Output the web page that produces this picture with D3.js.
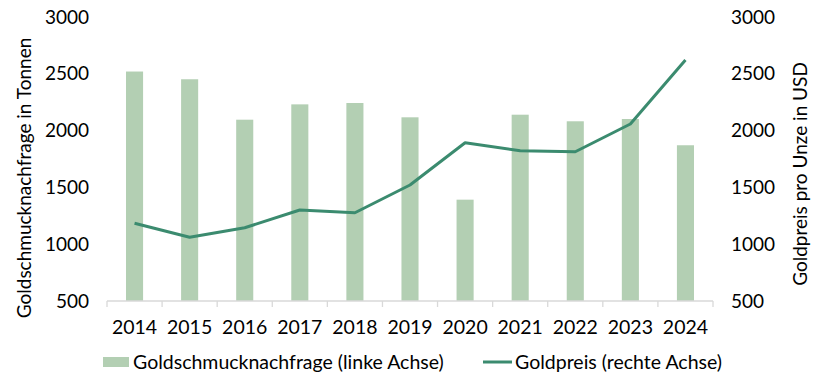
<!DOCTYPE html>
<html>
<head>
<meta charset="utf-8">
<script src="https://cdn.jsdelivr.net/npm/d3@7"></script>
<style>
  body { margin: 0; background: #fff; }
  svg { font-family: Lato, "Open Sans", sans-serif; }
  .tick text { fill: #000; }
</style>
</head>
<body>
<svg id="chart" width="820" height="385"></svg>
<script>
// chart data
const years = ['2014','2015','2016','2017','2018','2019','2020','2021','2022','2023','2024'];
const jewelleryDemand = [2520, 2452, 2096, 2231, 2243, 2117, 1392, 2140, 2082, 2102, 1871];
const goldPrice = [1184, 1061, 1145, 1301, 1277, 1521, 1893, 1823, 1814, 2058, 2621];
const yTicks = [500, 1000, 1500, 2000, 2500, 3000];

const barColor = '#b3cfb3';
const lineColor = '#3b8b6f';

const svg = d3.select('#chart');
const margin = {left: 107, right: 107, top: 17, bottom: 84};
const W = 820, H = 385;

const x = d3.scaleBand().domain(years).range([margin.left, W - margin.right]).paddingInner(0.69).paddingOuter(0.345);
const xTicksScale = d3.scaleBand().domain(years).range([margin.left, W - margin.right]);
const yL = d3.scaleLinear().domain([500, 3000]).range([H - margin.bottom, margin.top]);
const yR = d3.scaleLinear().domain([500, 3000]).range([H - margin.bottom, margin.top]);

// bars
svg.append('g').selectAll('rect').data(years).join('rect')
  .attr('x', d => x(d))
  .attr('width', x.bandwidth())
  .attr('y', (d, i) => yL(jewelleryDemand[i]))
  .attr('height', (d, i) => yL(500) - yL(jewelleryDemand[i]))
  .attr('fill', barColor);

// x axis
const xg = svg.append('g').attr('transform', `translate(0,${yL(500)})`);
xg.append('line').attr('x1', margin.left).attr('x2', W - margin.right)
  .attr('stroke', '#d9d9d9').attr('stroke-width', 1.3);
xg.selectAll('line.tk').data(years.concat(['end'])).join('line').attr('class', 'tk')
  .attr('x1', (d, i) => i < years.length ? xTicksScale(d) : W - margin.right)
  .attr('x2', (d, i) => i < years.length ? xTicksScale(d) : W - margin.right)
  .attr('y1', 0).attr('y2', 6).attr('stroke', '#d9d9d9').attr('stroke-width', 1.3);
xg.selectAll('text').data(years).join('text')
  .attr('x', d => xTicksScale(d) + xTicksScale.bandwidth() / 2)
  .attr('y', 33)
  .attr('text-anchor', 'middle')
  .attr('font-size', 19.5)
  .text(d => d);

// left axis
const yAxisL = d3.axisLeft(yL).tickValues(yTicks).tickFormat(d3.format('d')).tickSize(0).tickPadding(18);
svg.append('g').attr('transform', `translate(${margin.left},0)`).call(yAxisL)
  .call(g => g.select('.domain').remove())
  .selectAll('text').attr('font-size', 19).attr('font-family', 'Lato');

// right axis
const yAxisR = d3.axisRight(yR).tickValues(yTicks).tickFormat(d3.format('d')).tickSize(0).tickPadding(18);
svg.append('g').attr('transform', `translate(${W - margin.right},0)`).call(yAxisR)
  .call(g => g.select('.domain').remove())
  .selectAll('text').attr('font-size', 19).attr('font-family', 'Lato');

// line
const line = d3.line()
  .x((d, i) => x(years[i]) + x.bandwidth() / 2)
  .y(d => yR(d));
svg.append('path').datum(goldPrice)
  .attr('d', line)
  .attr('fill', 'none')
  .attr('stroke', lineColor)
  .attr('stroke-width', 3)
  .attr('stroke-linejoin', 'round');

// axis titles
svg.append('text')
  .attr('transform', 'translate(31,178) rotate(-90)')
  .attr('text-anchor', 'middle')
  .attr('font-size', 19)
  .text('Goldschmucknachfrage in Tonnen');
svg.append('text')
  .attr('transform', 'translate(807,174) rotate(-90)')
  .attr('text-anchor', 'middle')
  .attr('font-size', 19)
  .text('Goldpreis pro Unze in USD');

// legend
const lg = svg.append('g').attr('transform', 'translate(0,362)');
lg.append('rect').attr('x', 103).attr('y', -5).attr('width', 26).attr('height', 10).attr('fill', barColor);
lg.append('text').attr('x', 133).attr('y', 0).attr('dy', '0.35em').attr('font-size', 19.5).text('Goldschmucknachfrage (linke Achse)');
lg.append('line').attr('x1', 483).attr('x2', 512).attr('y1', 0).attr('y2', 0).attr('stroke', lineColor).attr('stroke-width', 3);
lg.append('text').attr('x', 515).attr('y', 0).attr('dy', '0.35em').attr('font-size', 19.5).text('Goldpreis (rechte Achse)');
</script>
</body>
</html>
